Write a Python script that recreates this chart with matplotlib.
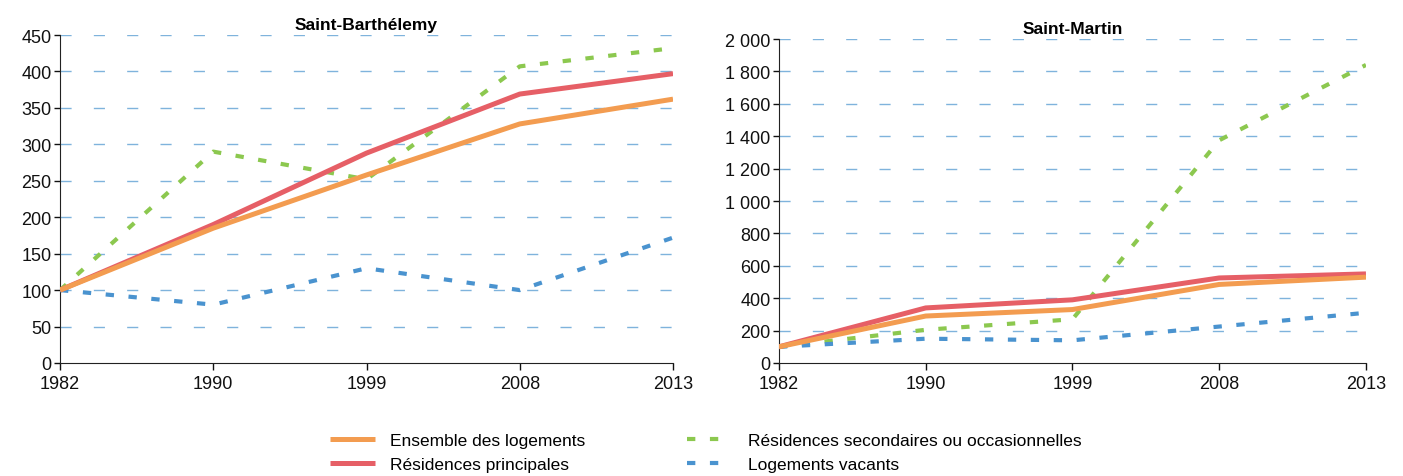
import matplotlib
matplotlib.use("Agg")
import matplotlib.pyplot as plt
from matplotlib.ticker import FuncFormatter, MultipleLocator

plt.rcParams['font.family'] = ['Liberation Sans Narrow', 'Liberation Sans', 'DejaVu Sans']

years = ['1982', '1990', '1999', '2008', '2013']
labels = ['Ensemble des logements', 'Résidences principales',
          'Résidences secondaires ou occasionnelles', 'Logements vacants']

# Saint-Barthélemy (base 100 en 1982)
sb_ensemble = [100, 185, 258, 328, 362]
sb_principales = [100, 190, 288, 369, 397]
sb_secondaires = [100, 290, 252, 407, 432]
sb_vacants = [100, 80, 130, 100, 172]

# Saint-Martin
sm_ensemble = [100, 290, 330, 485, 530]
sm_principales = [100, 340, 390, 525, 550]
sm_secondaires = [100, 205, 270, 1375, 1840]
sm_vacants = [100, 150, 140, 225, 310]

orange = '#f39c50'
red = '#e65f66'
green = '#8cc84f'
blue = '#4a93cf'
grid_col = '#7fb3dc'

fig = plt.figure(figsize=(14.03, 4.77), dpi=100)
ax1 = fig.add_axes([0.0428, 0.2369, 0.4369, 0.6876])
ax2 = fig.add_axes([0.5552, 0.2369, 0.4184, 0.6792])


def style(ax, ymax, step, title, fmt):
    x = range(len(years))
    ax.set_xlim(0, len(years) - 1)
    ax.set_ylim(0, ymax)
    ax.yaxis.set_major_locator(MultipleLocator(step))
    ax.yaxis.set_major_formatter(FuncFormatter(fmt))
    ax.set_xticks(list(x))
    ax.set_xticklabels(years)
    for v in range(step, ymax + 1, step):
        ax.axhline(v, color=grid_col, lw=1.0, dashes=(8, 16), zorder=0)
    ax.spines['top'].set_visible(False)
    ax.spines['right'].set_visible(False)
    ax.spines['left'].set_color('#222222')
    ax.spines['bottom'].set_color('#222222')
    ax.tick_params(axis='both', labelsize=13, colors='#111111', length=5, width=1, direction='out')
    ax.tick_params(axis='x', pad=4)
    ax.tick_params(axis='y', pad=2, length=4)
    ax.set_title(title, fontsize=12.5, fontweight='bold', pad=4)


def draw(ax, ens, pri, sec, vac):
    x = range(len(years))
    ax.plot(x, sec, color=green, lw=3, dashes=(2, 3.5), label=labels[2], zorder=3)
    ax.plot(x, vac, color=blue, lw=3, dashes=(2, 3.5), label=labels[3], zorder=3)
    ax.plot(x, pri, color=red, lw=3.6, label=labels[1], zorder=4, solid_capstyle='butt')
    ax.plot(x, ens, color=orange, lw=3.6, label=labels[0], zorder=5, solid_capstyle='butt')


draw(ax1, sb_ensemble, sb_principales, sb_secondaires, sb_vacants)
draw(ax2, sm_ensemble, sm_principales, sm_secondaires, sm_vacants)

style(ax1, 450, 50, 'Saint-Barthélemy', lambda v, p: f'{int(v)}')
style(ax2, 2000, 200, 'Saint-Martin', lambda v, p: f'{int(v):,}'.replace(',', ' '))

h, l = ax1.get_legend_handles_labels()
order = [3, 2, 0, 1]
handles = [h[i] for i in order]
names = [l[i] for i in order]
fig.legend(handles, names, loc='center', bbox_to_anchor=(0.503, 0.05), ncol=2,
           frameon=False, fontsize=12.5, handlelength=2.6, handletextpad=0.9,
           columnspacing=5.85, labelspacing=0.5, borderpad=0.2)

fig.savefig('out.png', dpi=100)
